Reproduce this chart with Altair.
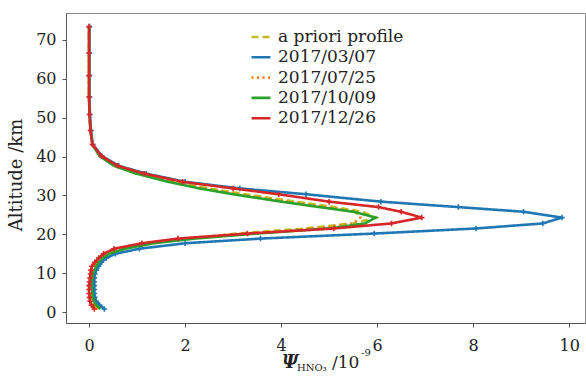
import altair as alt
import pandas as pd

# Altitude grid (km)
altitude = [0.8, 1.8, 2.8, 3.8, 4.8, 5.8, 6.8, 7.8, 8.8, 9.8, 10.8, 11.8, 12.8, 13.9, 15.0, 16.3,
            17.7, 18.9, 20.2, 21.5, 22.8, 24.3, 25.8, 27.0, 28.4, 30.3, 31.8, 33.5, 35.6, 37.6,
            40.1, 43.1, 46.7, 50.8, 55.3, 60.8, 66.6, 73.4]

# HNO3 volume mixing ratio (1e-9)
apriori = [0.17, 0.11, 0.07, 0.05, 0.04, 0.04, 0.04, 0.04, 0.05, 0.06, 0.09, 0.13, 0.18, 0.26, 0.38, 0.64,
           1.2, 2.0, 3.1, 4.5, 5.5, 5.97, 5.7, 5.1, 4.3, 3.25, 2.5, 1.8, 1.05, 0.55,
           0.24, 0.07, 0.03, 0.01, 0.0, 0.0, 0.0, 0.0]
d0307 = [0.32, 0.22, 0.15, 0.12, 0.11, 0.11, 0.11, 0.11, 0.11, 0.12, 0.15, 0.2, 0.26, 0.36, 0.55, 1.05,
         2.0, 3.57, 5.94, 8.06, 9.45, 9.85, 9.05, 7.69, 6.08, 4.52, 3.14, 2.0, 1.19, 0.62,
         0.27, 0.08, 0.04, 0.02, 0.01, 0.01, 0.01, 0.01]
d0725 = [0.2, 0.12, 0.08, 0.06, 0.05, 0.05, 0.05, 0.05, 0.06, 0.07, 0.1, 0.14, 0.19, 0.27, 0.4, 0.7,
         1.28, 2.1, 3.3, 4.7, 5.5, 5.65, 5.55, 4.95, 4.15, 3.1, 2.4, 1.7, 1.0, 0.53,
         0.23, 0.07, 0.03, 0.01, 0.0, 0.0, 0.0, 0.0]
d1009 = [0.24, 0.15, 0.1, 0.08, 0.07, 0.06, 0.06, 0.06, 0.07, 0.08, 0.11, 0.15, 0.2, 0.28, 0.42, 0.75,
         1.35, 2.2, 3.5, 5.0, 5.75, 5.97, 5.5, 4.8, 4.0, 3.0, 2.3, 1.65, 0.98, 0.52,
         0.22, 0.07, 0.03, 0.01, 0.0, 0.0, 0.0, 0.0]
d1226 = [0.11, 0.05, 0.02, 0.01, 0.0, 0.0, 0.0, 0.01, 0.02, 0.03, 0.04, 0.06, 0.12, 0.2, 0.3, 0.52,
         1.1, 1.85, 3.3, 5.1, 6.3, 6.93, 6.5, 6.03, 5.0, 3.95, 3.0, 1.95, 1.15, 0.6,
         0.26, 0.07, 0.03, 0.01, 0.0, 0.0, 0.0, 0.0]

series_names = ["a priori profile", "2017/03/07", "2017/07/25", "2017/10/09", "2017/12/26"]
series_values = [apriori, d0307, d0725, d1009, d1226]
series_colors = ["#bcbd22", "#1f77b4", "#ff7f0e", "#2ca02c", "#d62728"]
series_dashes = [[7, 4], [1, 0], [2, 3.5], [1, 0], [1, 0]]
marker_series = ["2017/03/07", "2017/12/26"]

x_ticks = [0, 2, 4, 6, 8, 10]
y_ticks = [0, 10, 20, 30, 40, 50, 60, 70]

rows = []
for name, vals in zip(series_names, series_values):
    for a, v in zip(altitude, vals):
        rows.append({"series": name, "alt": a, "val": v})
df = pd.DataFrame(rows)

FONT = "DejaVu Serif"

xenc = alt.X("val:Q", scale=alt.Scale(domain=[-0.48, 10.33], nice=False, zero=False),
             axis=alt.Axis(values=x_ticks, title=None, format="d"))
yenc = alt.Y("alt:Q", scale=alt.Scale(domain=[-2.8, 76.9], nice=False, zero=False),
             axis=alt.Axis(values=y_ticks, title=None, format="d"))

legend = alt.Legend(orient="none", legendX=184, legendY=13, title=None, symbolType="stroke",
                    symbolSize=361, symbolStrokeWidth=2.6, labelFont=FONT, labelFontSize=17,
                    labelColor="#222", rowPadding=1.3, labelOffset=6, padding=0, symbolOffset=0)
cscale = alt.Scale(domain=series_names, range=series_colors)
dscale = alt.Scale(domain=series_names, range=series_dashes)

layers = []
for name in series_names:
    layers.append(
        alt.Chart(df).transform_filter(alt.datum.series == name)
        .mark_line(strokeWidth=2.6)
        .encode(x=xenc, y=yenc, order=alt.Order("alt:Q"),
                color=alt.Color("series:N", scale=cscale, legend=legend),
                strokeDash=alt.StrokeDash("series:N", scale=dscale, legend=legend))
    )
    if name in marker_series:
        col = series_colors[series_names.index(name)]
        layers.append(
            alt.Chart(df).transform_filter(alt.datum.series == name)
            .mark_point(shape="M-1,0H1M0,-1V1", size=30, filled=False, strokeWidth=1.6, color=col, opacity=1)
            .encode(x=xenc, y=yenc)
        )

one = pd.DataFrame({"k": [0]})
def label(txt, x, y, size, **kw):
    return alt.Chart(one).mark_text(text=txt, font=FONT, fontSize=size, align="left",
                                    baseline="alphabetic", color="#222", **kw).encode(
        x=alt.value(x), y=alt.value(y))

layers.append(label("Ψ", 216, 355, 18, fontStyle="italic", fontWeight="bold"))
layers.append(label("HNO₃", 231, 358, 10))
layers.append(label("/10", 266, 355, 17))
layers.append(label("-9", 295, 343, 10))
layers.append(alt.Chart(one).mark_text(text="Altitude /km", font=FONT, fontSize=18, angle=270,
                                       align="center", baseline="middle", color="#222").encode(
    x=alt.value(-49), y=alt.value(162)))

chart = alt.layer(*layers).properties(
    width=519, height=310,
    autosize=alt.AutoSizeParams(type="none"),
    padding={"left": 66, "top": 13, "right": 1, "bottom": 57},
).configure_view(stroke="#888", strokeWidth=1).configure_axis(
    labelFont=FONT, labelFontSize=16, labelColor="#222", tickColor="#555", domainColor="#555",
    tickSize=4, labelPadding=6, grid=False, domainWidth=1, tickWidth=1
).configure_axisX(labelPadding=10).configure_legend(labelFont=FONT, labelFontSize=17)

chart.save("out.html", embed_options={"renderer": "svg", "actions": False})
